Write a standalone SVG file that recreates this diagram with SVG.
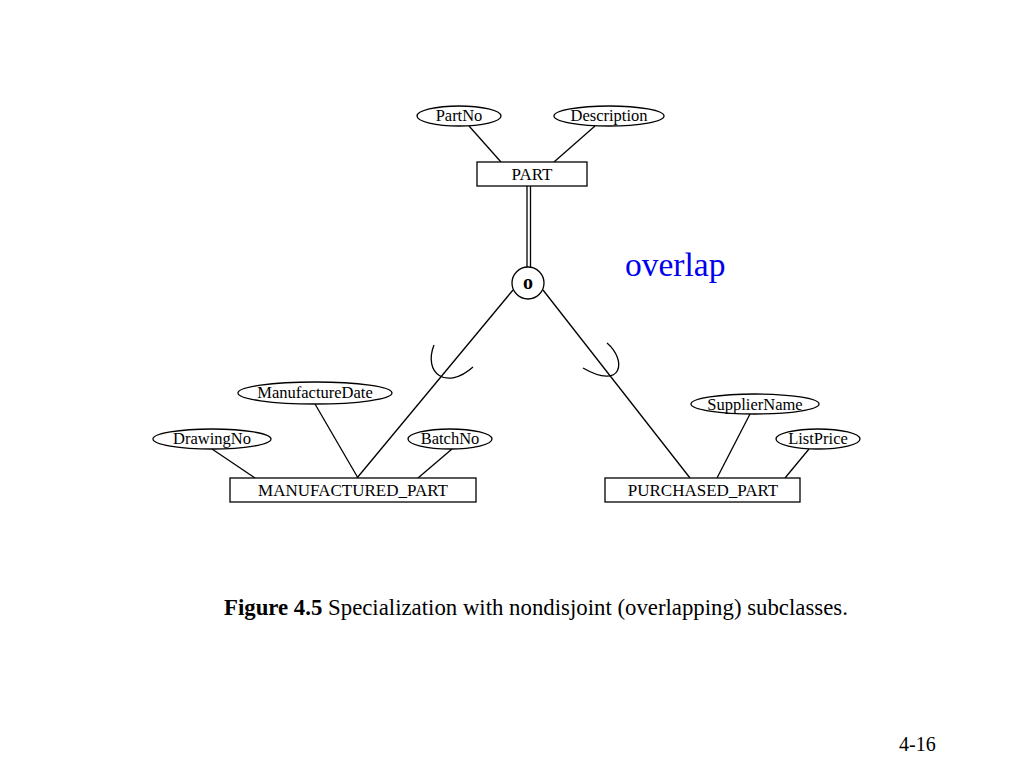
<svg xmlns="http://www.w3.org/2000/svg" width="1024" height="768" viewBox="0 0 1024 768">
<style>
.ent{fill:#fff;stroke:#000;stroke-width:1.3}
.att{fill:#fff;stroke:#000;stroke-width:1.3}
.ln{fill:none;stroke:#000;stroke-width:1.3}
.t{font-family:"Liberation Serif","Times New Roman",serif;font-size:17px;fill:#000;text-anchor:middle}
.ta{font-family:"Liberation Serif","Times New Roman",serif;font-size:16.5px;fill:#000;text-anchor:middle}
</style>
<rect width="1024" height="768" fill="#fff"/>
<g id="connectors">
<line class="ln" x1="469" y1="126" x2="501" y2="162"/>
<line class="ln" x1="595" y1="126" x2="554" y2="162"/>
<line class="ln" x1="527" y1="186" x2="527" y2="267"/>
<line class="ln" x1="530.5" y1="186" x2="530.5" y2="267"/>
<line class="ln" x1="513" y1="290" x2="357" y2="478"/>
<line class="ln" x1="543" y1="290" x2="690" y2="478"/>
<path class="ln" d="M434,345 C423,373 446,391 473,367"/>
<path class="ln" d="M607,343 C627,360 623,391 583,368"/>
<line class="ln" x1="212" y1="449" x2="255" y2="478"/>
<line class="ln" x1="315" y1="404" x2="358" y2="478"/>
<line class="ln" x1="452" y1="449" x2="418" y2="478"/>
<line class="ln" x1="750" y1="414" x2="717" y2="478"/>
<line class="ln" x1="809" y1="449" x2="785" y2="478"/>
</g>
<g id="PartNo"><ellipse class="att" cx="459" cy="116" rx="42" ry="10"/><text class="ta" x="459" y="121">PartNo</text></g>
<g id="Description"><ellipse class="att" cx="609" cy="116" rx="55" ry="10"/><text class="ta" x="609" y="121">Description</text></g>
<g id="PART"><rect class="ent" x="477" y="162" width="110" height="24"/><text class="t" x="532" y="180">PART</text></g>
<g id="overlapCircle"><circle class="ent" cx="528" cy="283" r="16"/><text x="528" y="289" style="font-family:'Liberation Serif','Times New Roman',serif;font-size:20px;font-weight:bold;text-anchor:middle">o</text></g>
<g id="ManufactureDate"><ellipse class="att" cx="315" cy="393" rx="77" ry="11"/><text class="ta" x="315" y="398">ManufactureDate</text></g>
<g id="DrawingNo"><ellipse class="att" cx="212" cy="439" rx="59" ry="10"/><text class="ta" x="212" y="444">DrawingNo</text></g>
<g id="BatchNo"><ellipse class="att" cx="450" cy="439" rx="42" ry="10"/><text class="ta" x="450" y="444">BatchNo</text></g>
<g id="MANUFACTURED_PART"><rect class="ent" x="230" y="478" width="246" height="24"/><text class="t" x="353" y="496">MANUFACTURED_PART</text></g>
<g id="SupplierName"><ellipse class="att" cx="755" cy="404" rx="64" ry="10"/><text class="ta" x="755" y="410">SupplierName</text></g>
<g id="ListPrice"><ellipse class="att" cx="818" cy="439" rx="42" ry="10"/><text class="ta" x="818" y="444">ListPrice</text></g>
<g id="PURCHASED_PART"><rect class="ent" x="605" y="478" width="195" height="24"/><text class="t" x="703" y="496">PURCHASED_PART</text></g>
<text x="625" y="276" style="font-family:'Liberation Serif','Times New Roman',serif;font-size:33.5px;fill:#0000ee">overlap</text>
<text x="224" y="615" style="font-family:'Liberation Serif','Times New Roman',serif;font-size:22.8px;fill:#000"><tspan font-weight="bold">Figure 4.5</tspan> Specialization with nondisjoint (overlapping) subclasses.</text>
<text x="899" y="751" style="font-family:'Liberation Serif','Times New Roman',serif;font-size:20px;fill:#000">4-16</text>
</svg>
